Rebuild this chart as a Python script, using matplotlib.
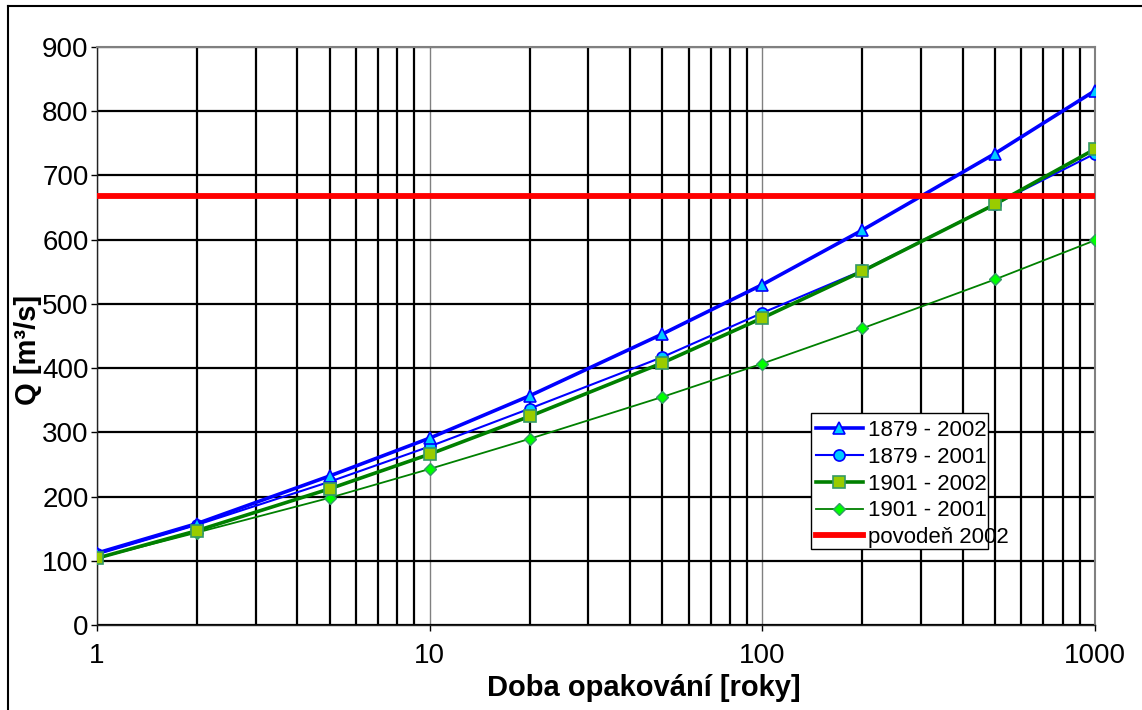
import matplotlib
matplotlib.use("Agg")
import matplotlib.pyplot as plt
from matplotlib.lines import Line2D
from matplotlib.patches import Rectangle
from matplotlib.ticker import FixedLocator, NullFormatter

plt.rcParams['font.family'] = ['Liberation Sans', 'DejaVu Sans']

return_periods = [1, 2, 5, 10, 20, 50, 100, 200, 500, 1000]
q_1879_2002 = [112, 158, 232, 291, 357, 453, 530, 615, 734, 832]
q_1879_2001 = [110, 156, 223, 278, 337, 417, 486, 552, 655, 734]
q_1901_2002 = [104, 147, 212, 266, 325, 408, 478, 551, 655, 741]
q_1901_2001 = [104, 144, 198, 243, 290, 355, 407, 462, 538, 599]
flood_2002 = 668

labels = ["1879 - 2002", "1879 - 2001", "1901 - 2002", "1901 - 2001", "povodeň 2002"]
x_ticks = [1, 10, 100, 1000]
x_tick_labels = ["1", "10", "100", "1000"]
y_ticks = [0, 100, 200, 300, 400, 500, 600, 700, 800, 900]

W, H = 1142, 710
AX_L, AX_R, AX_T, AX_B = 97, 1095, 47, 625
fig = plt.figure(figsize=(W / 100, H / 100), dpi=100)
ax = fig.add_axes([AX_L / W, 1 - AX_B / H, (AX_R - AX_L) / W, (AX_B - AX_T) / H])


def axc(px, py):
    return (px - AX_L) / (AX_R - AX_L), (AX_B - py) / (AX_B - AX_T)


ax.set_xscale('log')
ax.set_xlim(1, 1000)
ax.set_ylim(0, 900)

# grid
minor = [m * 10 ** d for d in range(0, 3) for m in range(2, 10)]
ax.xaxis.set_minor_locator(FixedLocator(minor))
ax.xaxis.set_minor_formatter(NullFormatter())
ax.set_xticks(x_ticks)
ax.set_xticklabels(x_tick_labels)
ax.set_yticks(y_ticks)
ax.grid(which='minor', axis='x', color='black', lw=1.6)
ax.grid(which='major', axis='x', color='#808080', lw=1.0)
ax.grid(which='major', axis='y', color='black', lw=1.6)
ax.set_axisbelow(True)

ax.plot(return_periods, q_1879_2002, color='#0000FF', lw=2.6, marker='^',
        ms=9, mfc='#00CCFF', mec='#0000FF', mew=1.2, label=labels[0], zorder=5)
ax.plot(return_periods, q_1879_2001, color='#0000FF', lw=1.5, marker='o',
        ms=8, mfc='#00CCFF', mec='#0000FF', mew=1.2, label=labels[1], zorder=4)
ax.plot(return_periods, q_1901_2002, color='#008000', lw=2.6, marker='s',
        ms=8, mfc='#99CC00', mec='#339966', mew=1.2, label=labels[2], zorder=5)
ax.plot(return_periods, q_1901_2001, color='#008000', lw=1.3, marker='D',
        ms=6, mfc='#00FF00', mec='#339966', mew=1.0, label=labels[3], zorder=4)
ax.axhline(flood_2002, color='#FF0000', lw=4.2, label=labels[4], zorder=6)

for s in ['top', 'right']:
    ax.spines[s].set_color('#808080')
    ax.spines[s].set_linewidth(1.5)
for s in ['left', 'bottom']:
    ax.spines[s].set_color('#222222')
    ax.spines[s].set_linewidth(1.0)

ax.tick_params(axis='both', which='major', labelsize=20, length=4, width=1, pad=2)
ax.tick_params(axis='x', which='minor', length=0)
ax.tick_params(axis='x', which='major', pad=9)

ax.set_xlabel("Doba opakování [roky]", fontsize=21, fontweight='bold', va='center')
ax.xaxis.set_label_coords(*axc(644, 688))
ax.set_ylabel("Q [m³/s]", fontsize=21, fontweight='bold', va='center')
ax.yaxis.set_label_coords(*axc(28, 350))

# legend box (text of the last entry overflows the box as in the original)
x0, y0 = axc(811, 549)
x1, y1 = axc(988, 413)
ax.add_patch(Rectangle((x0, y0), x1 - x0, y1 - y0, transform=ax.transAxes,
                       facecolor='white', edgecolor='black', lw=1.0, zorder=9))
leg = ax.legend(loc='upper left', bbox_to_anchor=axc(816, 420), fontsize=16,
                frameon=False, handlelength=2.1, handletextpad=0.25,
                borderpad=0.0, labelspacing=0.26, borderaxespad=0)
leg.set_zorder(10)

# outer frame (cropped chart area border)
fig.add_artist(Line2D([8 / W, 8 / W], [0, 1 - 6 / H], color='black', lw=1.5,
                      transform=fig.transFigure))
fig.add_artist(Line2D([8 / W, 1], [1 - 6 / H, 1 - 6 / H], color='black', lw=1.5,
                      transform=fig.transFigure))

fig.savefig("out.png", dpi=100)
